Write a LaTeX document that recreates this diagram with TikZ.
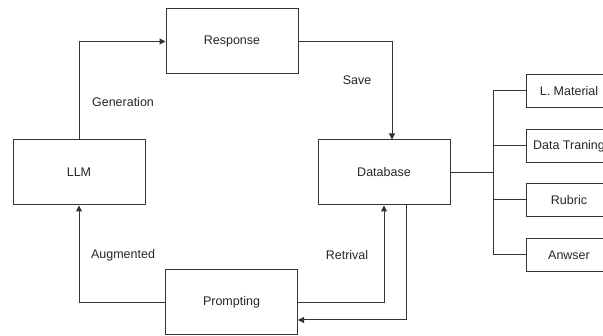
\documentclass[tikz,border=0pt]{standalone}
\usepackage{fontspec}
\setmainfont{Liberation Sans}
\usetikzlibrary{arrows.meta}
\begin{document}
\begin{tikzpicture}[x=1pt,y=-1pt,
  txt/.style={font=\fontsize{12.5}{14}\selectfont, text=black!85},
  box/.style={txt, draw=black!80, line width=1pt, minimum width=132pt, minimum height=65pt, inner sep=0pt},
  side/.style={txt, draw=black!80, line width=1pt, minimum width=86pt, minimum height=33pt, inner sep=0pt},
  link/.style={draw=black!80, line width=1pt},
  arr/.style={link, -{Triangle[length=6pt,width=6pt]}},
  lbl/.style={txt, inner sep=1pt}]
\useasboundingbox (0,0) rectangle (603,336);
\clip (0,0) rectangle (603,336);

% main cycle
\node[box] (resp)   at (232,41.5)  {Response};
\node[box] (llm)    at (79,172.5)  {LLM};
\node[box] (db)     at (384,172.5) {Database};
\node[box] (prompt) at (231.5,302.5) {Prompting};

\draw[arr] (llm.north) |- (resp.west);
\draw[arr] (resp.east) -| ([xshift=8pt]db.north);
\draw[arr] (prompt.west) -| (llm.south);
\draw[arr] (prompt.east) -| (db.south);
\draw[arr] ([xshift=22pt]db.south) |- ([yshift=-17.5pt]prompt.east);

\node[lbl] (lgen) at (123,102) {Generation};
\node[lbl] (lsave) at (357,80) {Save};
\node[lbl] (laug) at (123,255) {Augmented};
\node[lbl] (lret) at (347,255) {Retrival};

% database contents
\coordinate (trunk) at (493,172.5);
\node[side] (s1) at (569,91)  {L. Material};
\node[side] (s2) at (569,146) {Data Traning};
\node[side] (s3) at (569,200) {Rubric};
\node[side] (s4) at (569,255) {Anwser};

\draw[link] (db.east) -- (trunk);
\draw[link] (s1.west -| trunk) -- (s4.west -| trunk);
\foreach \s in {s1,s2,s3,s4}
  \draw[link] (\s.west -| trunk) -- (\s.west);
\end{tikzpicture}
\end{document}
